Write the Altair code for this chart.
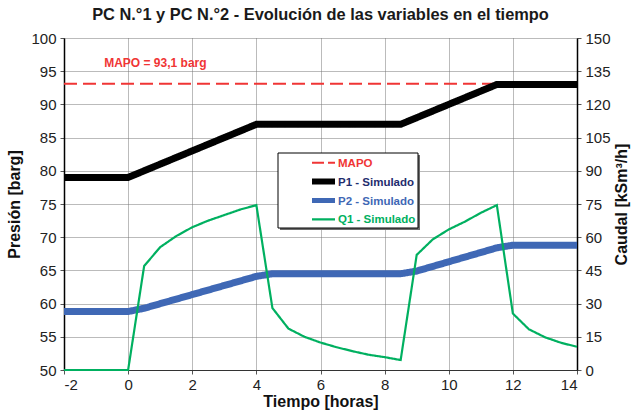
import altair as alt
import pandas as pd

# ---- data ----
horas_p1 = [-2, 0, 4, 8.5, 11.5, 14]
p1 = [79, 79, 87, 87, 93, 93]

horas_p2 = [-2, 0, 0.5, 4, 4.5, 8.5, 9, 11.5, 12, 14]
p2 = [58.8, 58.8, 59.3, 64.1, 64.5, 64.5, 64.9, 68.4, 68.8, 68.8]

horas_q1 = [-2, 0, 0.5, 1, 1.5, 2, 2.5, 3, 3.5, 4, 4.5, 5, 5.5, 6, 6.5, 7, 7.5,
            8, 8.5, 9, 9.5, 10, 10.5, 11, 11.5, 12, 12.5, 13, 13.5, 14]
q1 = [0, 0, 47, 55.5, 60.5, 64.5, 67.5, 70, 72.5, 74.5, 28, 18.7, 15, 12.4, 10.3,
      8.5, 6.9, 5.8, 4.5, 52, 59, 63.5, 67, 71, 74.5, 25.5, 18.4, 14.8, 12.3, 10.5]

horas_mapo = [-2, 14]
mapo = [93.1, 93.1]

series = ["MAPO", "P1 - Simulado", "P2 - Simulado", "Q1 - Simulado"]
colores = ["#f03535", "#000000", "#3f68b5", "#00b060"]
colores_texto = ["#f03535", "#1f2d6e", "#3f68b5", "#00b060"]
dashes = [[13, 6], [1, 0], [1, 0], [1, 0]]
dashes_leyenda = [[12, 4], [1, 0], [1, 0], [1, 0]]
anchos = [2, 7, 7, 2.2]
anchos_leyenda = [2, 6, 5, 2.2]

anot_t = [0.85]
anot_v = [96.3]
anot_txt = ["MAPO = 93,1 barg"]

x_ticks = list(range(-2, 15, 2))
y_ticks_p = list(range(50, 101, 5))
y_ticks_q = list(range(0, 151, 15))

# ---- tables ----
rows = []
for t, v in zip(horas_mapo, mapo):
    rows.append({"t": t, "v": v, "serie": "MAPO", "o": 3})
for t, v in zip(horas_p2, p2):
    rows.append({"t": t, "v": v, "serie": "P2 - Simulado", "o": 1})
for t, v in zip(horas_p1, p1):
    rows.append({"t": t, "v": v, "serie": "P1 - Simulado", "o": 2})
df_p = pd.DataFrame(rows)
df_q = pd.DataFrame({"t": horas_q1, "v": q1, "serie": "Q1 - Simulado"})
df_a = pd.DataFrame({"t": anot_t, "v": anot_v, "txt": anot_txt})

# legend table (layout in pixels, relative to the plot area)
LEG_X0, LEG_X1, LEG_Y0, LEG_Y1 = 214, 354, 115, 190
LEG_ROW0, LEG_ROW_STEP = 124.7, 18.9
df_leg = pd.DataFrame({
    "serie": series,
    "col": colores,
    "tcol": colores_texto,
    "dash": dashes_leyenda,
    "w": anchos_leyenda,
    "py": [LEG_ROW0 + LEG_ROW_STEP * i for i in range(len(series))],
})

FONT = "Liberation Sans"

xscale = alt.Scale(domain=[-2, 14], nice=False, zero=False)
xenc = alt.X("t:Q", scale=xscale,
             axis=alt.Axis(values=x_ticks, title="Tiempo [horas]",
                           labelExpr="toString(datum.value)"))

color = alt.Color("serie:N", scale=alt.Scale(domain=series, range=colores), legend=None)
dash = alt.StrokeDash("serie:N", scale=alt.Scale(domain=series, range=dashes), legend=None)
width = alt.StrokeWidth("serie:N", scale=alt.Scale(type="ordinal", domain=series, range=anchos),
                        legend=None)

axis_p = alt.Axis(values=y_ticks_p, title="Presión [barg]", orient="left",
                  labelOverlap=False)
yp = alt.Y("v:Q", scale=alt.Scale(domain=[50, 100], nice=False, zero=False), axis=axis_p)
yq = alt.Y("v:Q", scale=alt.Scale(domain=[0, 150], nice=False),
           axis=alt.Axis(values=y_ticks_q, title="Caudal [kSm³/h]", orient="right",
                         grid=False, titleAngle=270, titlePadding=19, labelOverlap=False))

lines_p = alt.Chart(df_p).mark_line(strokeCap="butt").encode(
    x=xenc, y=yp, color=color, strokeDash=dash, strokeWidth=width,
    order="o:Q", detail="serie:N",
)
text = alt.Chart(df_a).mark_text(
    font=FONT, fontSize=12, fontWeight="bold", color="#f03535"
).encode(x=xenc, y=yp, text="txt:N")

left = alt.layer(lines_p, text)

lines_q = alt.Chart(df_q).mark_line(strokeCap="butt").encode(
    x=xenc, y=yq, color=color, strokeDash=dash, strokeWidth=width,
)

# manual legend box
leg_base = alt.Chart(df_leg)
leg_shadow = leg_base.transform_filter("datum.serie == 'MAPO'").mark_rect(
    fill="#6b6b6b"
).encode(x=alt.value(LEG_X0 + 2), x2=alt.value(LEG_X1 + 2),
         y=alt.value(LEG_Y0 + 2), y2=alt.value(LEG_Y1 + 2))
leg_box = leg_base.transform_filter("datum.serie == 'MAPO'").mark_rect(
    fill="#ffffff", stroke="#000000", strokeWidth=1
).encode(x=alt.value(LEG_X0), x2=alt.value(LEG_X1),
         y=alt.value(LEG_Y0), y2=alt.value(LEG_Y1))
leg_sym = leg_base.mark_rule(strokeCap="butt").encode(
    x=alt.value(248), x2=alt.value(271),
    y=alt.Y("py:Q", scale=None, axis=None),
    color=alt.Color("col:N", scale=None, legend=None),
    strokeDash=alt.StrokeDash("dash", scale=None, legend=None),
    strokeWidth=alt.StrokeWidth("w:Q", scale=None, legend=None),
)
leg_txt = leg_base.mark_text(
    align="left", baseline="middle", font=FONT, fontSize=11.5, fontWeight="bold", dy=1
).encode(
    x=alt.value(274),
    y=alt.Y("py:Q", scale=None, axis=None),
    text="serie:N",
    color=alt.Color("tcol:N", scale=None, legend=None),
)
leyenda = alt.layer(leg_shadow, leg_box, leg_sym, leg_txt)

chart = alt.layer(left, lines_q, leyenda).resolve_scale(y="independent").properties(
    width=513, height=332,
    title=alt.TitleParams(
        "PC N.°1 y PC N.°2 - Evolución de las variables en el tiempo",
        font=FONT, fontSize=16.4, fontWeight="bold", color="#1a1a1a",
        anchor="middle", offset=8,
    ),
    padding={"left": 64, "top": 38, "right": 61, "bottom": 42},
    autosize=alt.AutoSizeParams(type="none"),
).configure_view(stroke=None).configure_axis(
    labelFont=FONT, labelFontSize=15, labelColor="#222222",
    titleFont=FONT, titleFontSize=16, titleFontWeight="bold", titleColor="#111111",
    domainColor="#000000", domainWidth=1.5,
    tickColor="#555555", tickSize=4,
    gridColor="#777777", gridDash=[1, 1], gridWidth=1,
    labelPadding=4, titlePadding=8,
).configure_axisX(
    domainColor="#333333", domainWidth=1, labelPadding=3, titlePadding=1,
)

chart.save("out.html", embed_options={"renderer": "svg", "actions": False})
